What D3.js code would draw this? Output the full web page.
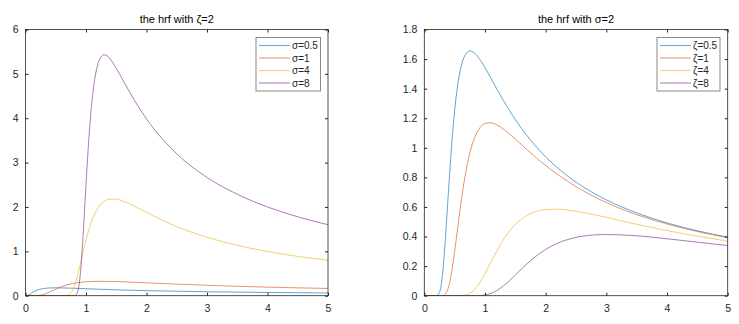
<!DOCTYPE html>
<html>
<head>
<meta charset="utf-8">
<script src="https://cdn.jsdelivr.net/npm/d3@7"></script>
<style>
  body { margin: 0; background: #fff; }
  svg { display: block; font-family: "Liberation Sans", Arial, sans-serif; }
</style>
</head>
<body>
<svg id="chart" width="739" height="324"></svg>
<script>
// hrf values, [x, h(x)]
const sigma05 = [[0,0],[0.025,0.001],[0.05,0.012],[0.1,0.057],[0.15,0.099],[0.2,0.129],[0.25,0.149],[0.3,0.162],[0.4,0.175],[0.5,0.178],[0.6,0.176],[0.8,0.167],[1,0.157],[1.5,0.132],[2,0.114],[3,0.089],[4,0.073],[5,0.062]];
const sigma1 = [[0,0],[0.1,0],[0.2,0.002],[0.3,0.028],[0.4,0.085],[0.5,0.149],[0.6,0.206],[0.7,0.249],[0.8,0.280],[0.9,0.300],[1,0.313],[1.2,0.324],[1.4,0.322],[1.6,0.314],[2,0.291],[2.5,0.261],[3,0.235],[3.5,0.212],[4,0.193],[4.5,0.177],[5,0.163]];
const sigma4 = [[0,0],[0.6,0],[0.7,0.011],[0.75,0.061],[0.8,0.186],[0.85,0.400],[0.9,0.675],[0.95,0.971],[1,1.252],[1.05,1.499],[1.1,1.701],[1.2,1.980],[1.3,2.124],[1.4,2.177],[1.5,2.175],[1.6,2.138],[1.8,2.017],[2,1.878],[2.5,1.559],[3,1.317],[3.5,1.135],[4,0.996],[4.5,0.887],[5,0.799]];
const sigma8 = [[0,0],[0.8,0.001],[0.825,0.008],[0.85,0.045],[0.875,0.158],[0.9,0.400],[0.925,0.793],[0.95,1.309],[0.975,1.899],[1,2.504],[1.05,3.592],[1.1,4.400],[1.15,4.928],[1.2,5.236],[1.25,5.386],[1.3,5.430],[1.35,5.405],[1.4,5.336],[1.5,5.128],[1.6,4.885],[1.8,4.404],[2,3.984],[2.5,3.198],[3,2.666],[3.5,2.286],[4,2.000],[4.5,1.778],[5,1.600]];

const zeta05 = [[0,0],[0.2,0],[0.25,0.022],[0.3,0.144],[0.35,0.400],[0.4,0.718],[0.45,1.015],[0.5,1.252],[0.55,1.424],[0.6,1.538],[0.65,1.607],[0.7,1.643],[0.75,1.655],[0.8,1.649],[0.9,1.607],[1,1.542],[1.2,1.394],[1.4,1.254],[1.6,1.132],[1.8,1.028],[2,0.939],[2.5,0.768],[3,0.648],[3.5,0.560],[4,0.492],[4.5,0.439],[5,0.396]];
const zeta1 = [[0,0],[0.3,0.001],[0.35,0.013],[0.4,0.060],[0.45,0.159],[0.5,0.299],[0.55,0.458],[0.6,0.614],[0.65,0.754],[0.7,0.871],[0.75,0.964],[0.8,1.036],[0.9,1.126],[1,1.164],[1.1,1.169],[1.2,1.154],[1.4,1.095],[1.6,1.022],[1.8,0.948],[2,0.880],[2.5,0.738],[3,0.630],[3.5,0.548],[4,0.485],[4.5,0.434],[5,0.392]];
const zeta4 = [[0,0],[0.6,0.001],[0.7,0.007],[0.8,0.030],[0.9,0.079],[1,0.149],[1.1,0.229],[1.2,0.307],[1.3,0.377],[1.4,0.435],[1.5,0.482],[1.6,0.518],[1.8,0.563],[2,0.582],[2.2,0.585],[2.4,0.577],[2.8,0.548],[3.2,0.511],[3.6,0.474],[4,0.440],[4.5,0.402],[5,0.369]];
const zeta8 = [[0,0],[0.9,0.001],[1,0.005],[1.1,0.016],[1.2,0.036],[1.3,0.065],[1.4,0.100],[1.5,0.139],[1.6,0.180],[1.8,0.254],[2,0.313],[2.2,0.356],[2.4,0.384],[2.6,0.402],[2.8,0.411],[3,0.414],[3.2,0.412],[3.6,0.402],[4,0.385],[4.5,0.362],[5,0.339]];

const sigmaLabels = ["σ=0.5", "σ=1", "σ=4", "σ=8"];
const zetaLabels = ["ζ=0.5", "ζ=1", "ζ=4", "ζ=8"];
const xTicks = [0, 1, 2, 3, 4, 5];
const leftYTicks = [0, 1, 2, 3, 4, 5, 6];
const rightYTicks = [0, 0.2, 0.4, 0.6, 0.8, 1, 1.2, 1.4, 1.6, 1.8];

const colors = ["#0072BD", "#D95319", "#EDB120", "#7E2F8E"];
const axisColor = "#262626";

const svg = d3.select("#chart");

function drawPanel(opt) {
  const x = d3.scaleLinear().domain([0, 5]).range([opt.left, opt.right]);
  const y = d3.scaleLinear().domain([0, opt.yMax]).range([opt.bottom, opt.top]);
  const g = svg.append("g");
  const fmt = d => String(+d.toFixed(1));
  const tick = 3;

  // clip lines to the box
  const clipId = "clip" + opt.id;
  g.append("clipPath").attr("id", clipId)
    .append("rect")
    .attr("x", opt.left).attr("y", opt.top)
    .attr("width", opt.right - opt.left).attr("height", opt.bottom - opt.top);

  const line = d3.line()
    .x(d => x(d[0]))
    .y(d => y(d[1]))
    .curve(d3.curveMonotoneX);

  g.append("g").attr("clip-path", `url(#${clipId})`)
    .selectAll("path")
    .data(opt.series)
    .enter().append("path")
    .attr("d", d => line(d))
    .attr("fill", "none")
    .attr("stroke", (d, i) => colors[i])
    .attr("stroke-opacity", 0.8)
    .attr("stroke-width", 0.8);

  // axes, ticks pointing inward on all four sides
  const bottomAxis = g.append("g")
    .attr("transform", `translate(0,${opt.bottom})`)
    .call(d3.axisBottom(x).tickValues(xTicks).tickFormat(fmt).tickSizeInner(-tick).tickSizeOuter(0).tickPadding(9));
  const topAxis = g.append("g")
    .attr("transform", `translate(0,${opt.top})`)
    .call(d3.axisTop(x).tickValues(xTicks).tickFormat("").tickSizeInner(-tick).tickSizeOuter(0));
  const leftAxis = g.append("g")
    .attr("transform", `translate(${opt.left},0)`)
    .call(d3.axisLeft(y).tickValues(opt.yTicks).tickFormat(fmt).tickSizeInner(-tick).tickSizeOuter(0).tickPadding(7));
  const rightAxis = g.append("g")
    .attr("transform", `translate(${opt.right},0)`)
    .call(d3.axisRight(y).tickValues(opt.yTicks).tickFormat("").tickSizeInner(-tick).tickSizeOuter(0));

  [bottomAxis, topAxis, leftAxis, rightAxis].forEach(a => {
    a.select(".domain").remove();
    a.selectAll("line").attr("stroke", axisColor);
    a.selectAll("text").attr("fill", axisColor).style("font-size", "10.5px").style("font-family", "'Liberation Sans', Arial, sans-serif");
  });

  g.append("rect")
    .attr("x", opt.left).attr("y", opt.top)
    .attr("width", opt.right - opt.left).attr("height", opt.bottom - opt.top)
    .attr("fill", "none")
    .attr("stroke", axisColor)
    .attr("stroke-width", 0.8);

  g.append("text")
    .attr("x", (opt.left + opt.right) / 2)
    .attr("y", 23)
    .attr("text-anchor", "middle")
    .attr("fill", "#000")
    .style("font-size", "11px")
    .text(opt.title);

  // legend
  const lg = g.append("g");
  lg.append("rect")
    .attr("x", opt.legX).attr("y", 37.5)
    .attr("width", opt.legW).attr("height", 53.5)
    .attr("fill", "#fff")
    .attr("stroke", "#8a8a8a")
    .attr("stroke-width", 1);

  const item = lg.selectAll(".item")
    .data(opt.labels)
    .enter().append("g")
    .attr("class", "item")
    .attr("transform", (d, i) => `translate(${opt.legX + 3},${45.5 + i * 12.5})`);

  item.append("line")
    .attr("x1", 0).attr("x2", 31)
    .attr("stroke", (d, i) => colors[i])
    .attr("stroke-opacity", 0.55)
    .attr("stroke-width", 1.2);

  item.append("text")
    .attr("x", 33)
    .attr("dy", "0.35em")
    .attr("fill", axisColor)
    .style("font-size", "10px")
    .text(d => d);
}

drawPanel({
  id: "L", left: 25.5, right: 328, top: 29.5, bottom: 295.7, yMax: 6,
  yTicks: leftYTicks, series: [sigma05, sigma1, sigma4, sigma8],
  labels: sigmaLabels, title: "the hrf with ζ=2", legX: 256, legW: 64.5
});

drawPanel({
  id: "R", left: 424.3, right: 727.7, top: 29.5, bottom: 295.7, yMax: 1.8,
  yTicks: rightYTicks, series: [zeta05, zeta1, zeta4, zeta8],
  labels: zetaLabels, title: "the hrf with σ=2", legX: 657, legW: 63
});
</script>
</body>
</html>
